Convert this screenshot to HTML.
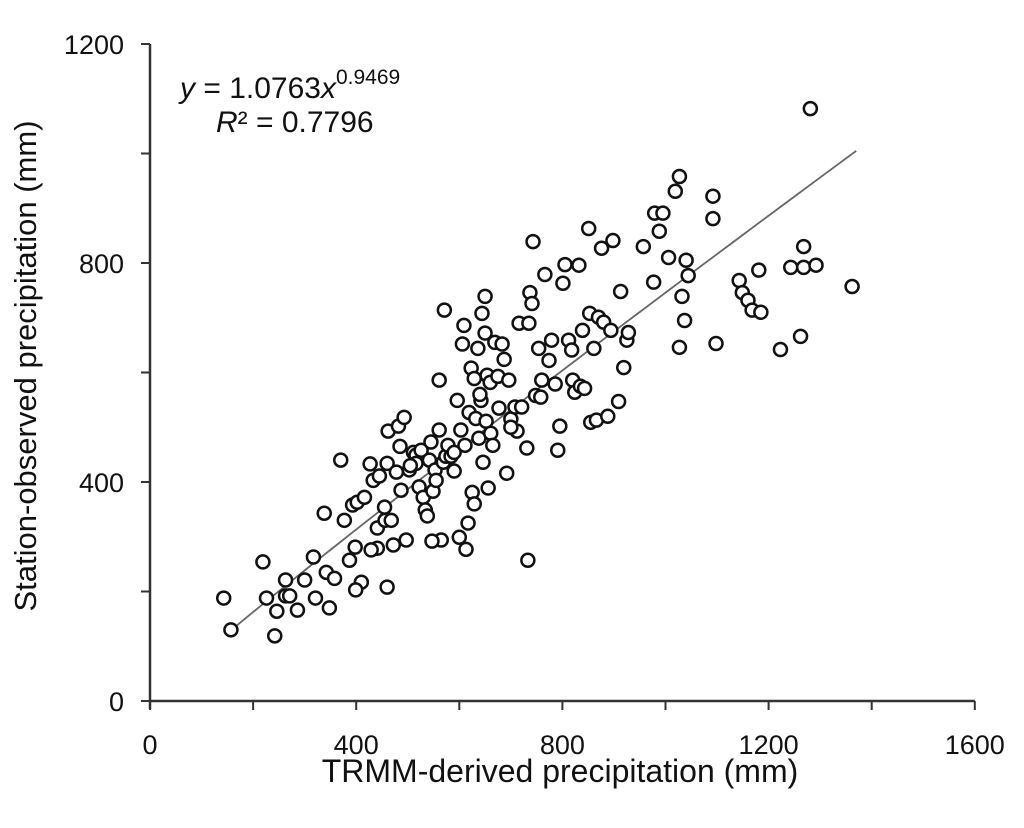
<!DOCTYPE html>
<html><head><meta charset="utf-8"><style>
html,body{margin:0;padding:0;background:#fff;width:1024px;height:828px;overflow:hidden}
svg text{font-family:"Liberation Sans",Arial,sans-serif;fill:#111}
</style></head><body>
<svg id="chart" width="1024" height="828" viewBox="0 0 1024 828" xmlns="http://www.w3.org/2000/svg">
<g id="axes"></g>
<g id="marks"></g>
<text x="180" y="98" font-size="30"><tspan font-style="italic">y</tspan> = 1.0763<tspan font-style="italic">x</tspan><tspan font-size="21" dy="-14">0.9469</tspan></text>
<text x="216" y="132" font-size="30"><tspan font-style="italic">R</tspan>² = 0.7796</text>
<text x="560" y="782" font-size="32" text-anchor="middle">TRMM-derived precipitation  (mm)</text>
<text transform="translate(36,366) rotate(-90)" font-size="31" text-anchor="middle">Station-observed  precipitation (mm)</text>
</svg>
<script>
const xTicks=[0,400,800,1200,1600];
const yTicks=[0,400,800,1200];
const xVals=[143,157,219,226,242,246,263,263,271,286,300,317,321,342,348,358,338,410,398,377,393,402,416,427,441,441,433,445,455,456,460,462,468,472,478,482,485,487,493,497,503,511,516,516,522,526,530,534,538,542,545,549,553,555,561,565,569,571,574,561,578,584,590,600,596,603,606,609,611,613,617,619,623,625,629,629,632,636,638,642,644,646,650,650,652,654,656,660,661,665,669,675,677,683,687,692,696,700,708,712,716,721,731,733,735,737,741,743,748,754,758,760,766,774,779,786,791,795,801,805,812,818,820,824,832,835,839,843,851,853,855,861,866,870,876,880,888,894,898,909,913,919,925,928,957,977,979,988,995,1006,1019,1027,1027,1032,1037,1040,1044,1092,1092,1098,1143,1149,1160,1168,1181,1185,1223,1243,1262,1268,1268,1281,1292,1362,547,387,399,460,429,370,505,590,640,700];
const yVals=[188,130,254,188,119,164,221,192,192,166,221,263,188,235,170,224,343,217,281,330,358,363,372,433,279,316,403,411,354,330,434,493,330,285,418,502,465,385,518,294,422,454,449,434,391,458,372,349,338,440,473,383,422,403,495,294,436,714,447,586,467,447,454,299,549,495,652,686,467,277,325,527,608,381,360,589,516,644,480,549,708,436,672,739,511,595,389,582,489,467,655,593,535,652,624,416,586,515,537,493,690,537,462,257,690,746,726,839,558,644,555,586,779,622,659,579,458,502,763,797,659,641,586,564,796,575,677,571,863,708,509,644,513,701,827,692,520,677,841,547,748,609,659,673,830,765,891,858,891,810,931,958,646,739,695,805,777,922,881,653,768,746,732,714,787,710,642,792,666,830,792,1082,796,757,292,257,203,208,276,440,430,420,560,500];
const fitA=1.0763, fitB=0.9469, fitX=[150,1370];
const X=v=>150+v*0.5155, Y=v=>701-v*0.5475;
const NS="http://www.w3.org/2000/svg";
const axes=document.getElementById('axes'), marks=document.getElementById('marks');
function mk(t,a,p){const e=document.createElementNS(NS,t);for(const k in a)e.setAttribute(k,a[k]);p.appendChild(e);return e;}
let l=mk('line',{x1:X(0),y1:Y(0),x2:X(1600),y2:Y(0),stroke:'#333','stroke-width':2.5},axes);


l=mk('line',{x1:X(0),y1:Y(0)+8,x2:X(0),y2:Y(1200),stroke:'#333','stroke-width':2.5},axes);


for(let v=0;v<=1600;v+=200){const t=mk('line',{x1:X(v),y1:Y(0),x2:X(v),y2:Y(0)+9,stroke:'#333','stroke-width':2},axes);

}
for(let v=0;v<=1200;v+=200){const t=mk('line',{x1:X(0)-9,y1:Y(v),x2:X(0),y2:Y(v),stroke:'#333','stroke-width':2},axes);

}
xTicks.forEach(v=>{const t=mk('text',{x:X(v),y:754,'font-size':27,'text-anchor':'middle'},axes);t.textContent=v;

});
yTicks.forEach(v=>{const t=mk('text',{x:124,y:Y(v)+10,'font-size':27,'text-anchor':'end'},axes);t.textContent=v;

});
let d='';for(let i=0;i<=40;i++){const x=fitX[0]+(fitX[1]-fitX[0])*i/40;d+=(i?'L':'M')+X(x)+','+Y(fitA*Math.pow(x,fitB));}
const fl=mk('path',{d:d,fill:'none',stroke:'#666','stroke-width':1.8},marks);


xVals.forEach((x,i)=>{const c=mk('circle',{cx:X(x),cy:Y(yVals[i]),r:6.5,fill:'#fff',stroke:'#111','stroke-width':2.5},marks);

});
</script>
</body></html>
